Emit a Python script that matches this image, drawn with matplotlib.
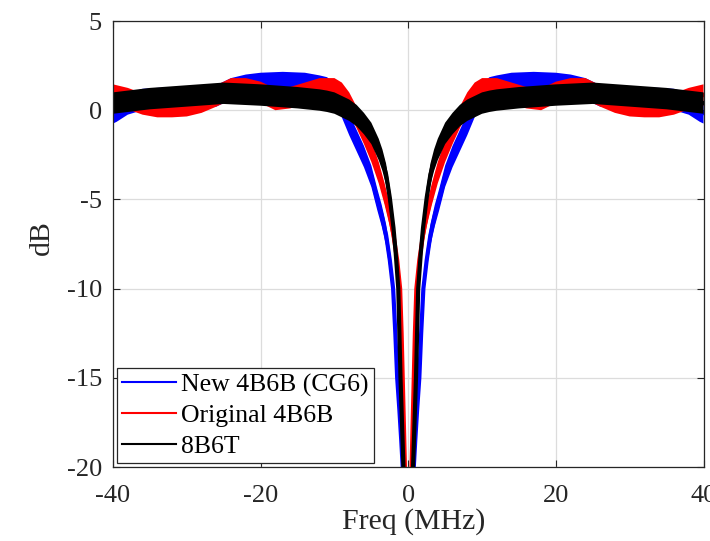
import numpy as np
import matplotlib
matplotlib.use("Agg")
import matplotlib.pyplot as plt

plt.rcParams['font.family'] = ['Liberation Serif', 'DejaVu Serif']
plt.rcParams['axes.unicode_minus'] = False

# ---- data (band centre in dB) ----
freq_blue = [-40, -39.5, -38, -36, -34, -30, -28, -26, -24, -22, -20, -17, -14, -12, -11, -10,
             -9, -8, -7, -6, -5, -4.2, -3.6, -3.0, -2.5, -2.05, -1.75, -1.5, -1.2, -0.95, -0.75, 0,
             0.75, 0.95, 1.2, 1.5, 1.75, 2.05, 2.5, 3.0, 3.6, 4.2, 5, 6, 7, 8, 9, 10, 11, 12, 14, 17,
             20, 22, 24, 26, 28, 30, 34, 36, 38, 39.5, 40]
db_blue = [-0.15, -0.05, 0.35, 0.6, 0.65, 0.7, 0.75, 0.8, 1.2, 1.4, 1.5, 1.55, 1.5, 1.35, 1.25, 0.9,
           0.2, -0.8, -1.7, -2.6, -3.7, -5.0, -5.9, -7.0, -8.4, -10, -12.5, -15, -16.8, -18.5, -20, -45,
           -20, -18.5, -16.8, -15, -12.5, -10, -8.4, -7.0, -5.9, -5.0, -3.7, -2.6, -1.7, -0.8, 0.2, 0.9,
           1.25, 1.35, 1.5, 1.55,
           1.5, 1.4, 1.2, 0.8, 0.75, 0.7, 0.65, 0.6, 0.35, -0.05, -0.15]

freq_red = [-40, -38, -36, -34, -32, -30, -28, -26, -24, -22, -20, -18, -16, -14, -12, -10,
            -9, -8, -7, -6, -5, -4, -3.2, -2.5, -2.0, -1.5, -1.1, -0.9, -0.75, -0.6, -0.45, 0,
            0.45, 0.6, 0.75, 0.9, 1.1, 1.5, 2.0, 2.5, 3.2, 4, 5, 6, 7, 8, 9, 10, 12, 14, 16, 18,
            20, 22, 24, 26, 28, 30, 32, 34, 36, 38, 40]
db_red = [0.85, 0.65, 0.35, 0.2, 0.2, 0.25, 0.45, 0.8, 1.2, 1.2, 1.0, 0.6, 0.7, 0.95, 1.2, 1.2,
          0.95, 0.4, -0.4, -1.3, -2.3, -3.5, -4.7, -5.9, -7.0, -8.4, -10, -12.5, -15, -17.5, -20, -45,
          -20, -17.5, -15, -12.5, -10, -8.4, -7.0, -5.9, -4.7, -3.5, -2.3, -1.3, -0.4, 0.4, 0.95, 1.2,
          1.2, 0.95, 0.7, 0.6,
          1.0, 1.2, 1.2, 0.8, 0.45, 0.25, 0.2, 0.2, 0.35, 0.65, 0.85]

freq_black = [-40, -35, -30, -25, -20, -15, -12, -11, -10, -9, -8, -7, -6, -5, -4, -3.5, -3.0,
              -2.5, -2.0, -1.7, -1.35, -1.2, -1.05, -0.85, -0.65, 0,
              0.65, 0.85, 1.05, 1.2, 1.35, 1.7, 2.0, 2.5, 3.0, 3.5, 4, 5, 6, 7, 8, 9, 10, 11, 12, 15,
              20, 25, 30, 35, 40]
db_black = [0.4, 0.65, 0.8, 0.95, 0.85, 0.7, 0.57, 0.5, 0.4, 0.2, 0.0, -0.3, -0.75, -1.3, -2.2, -2.8, -3.6,
            -4.9, -6.6, -8.0, -10, -12.5, -15, -17.5, -20, -45,
            -20, -17.5, -15, -12.5, -10, -8.0, -6.6, -4.9, -3.6, -2.8, -2.2, -1.3, -0.75, -0.3, 0.0, 0.2,
            0.4, 0.5, 0.57, 0.7,
            0.85, 0.95, 0.8, 0.65, 0.4]

spread_blue = 0.6
spread_red = 0.6
spread_black = 0.6

labels = ['New 4B6B (CG6)', 'Original 4B6B', '8B6T']
colors = ['#0000ff', '#ff0000', '#000000']

fig = plt.figure(figsize=(7.10, 5.41), dpi=100)
ax = fig.add_axes([113 / 710, (541 - 467) / 541, 590.5 / 710, 446 / 541])

series = [(freq_blue, db_blue, spread_blue), (freq_red, db_red, spread_red),
          (freq_black, db_black, spread_black)]
for (f, d, s), c, lab in zip(series, colors, labels):
    f = np.asarray(f, float)
    d = np.asarray(d, float)
    ax.fill_between(f, d - s, d + s, color=c, lw=0, zorder=2)
    ax.plot(f, d, color=c, lw=3.0, zorder=2)
    ax.plot([], [], color=c, lw=1.5, label=lab)

ax.set_xlim(-40, 40)
ax.set_ylim(-20, 5)
ax.set_xticks([-40, -20, 0, 20, 40])
ax.set_yticks([-20, -15, -10, -5, 0, 5])
ax.grid(True, color='#dcdcdc', lw=0.9)
ax.set_axisbelow(True)
ax.tick_params(direction='in', length=5, width=0.8, top=True, right=True,
               labelsize=19, colors='#262626')
ax.tick_params(axis='x', pad=13)
ax.tick_params(axis='y', pad=8)
for sp in ax.spines.values():
    sp.set_color('#262626')
    sp.set_linewidth(0.9)

ax.set_xlabel('Freq (MHz)', fontsize=21.5, color='#262626')
ax.set_ylabel('dB', fontsize=21.5, color='#262626')
ax.xaxis.set_label_coords(0.51, -0.093)
ax.yaxis.set_label_coords(-0.098, 0.515)

leg = ax.legend(loc='lower left', bbox_to_anchor=(0, 0), borderaxespad=0.15,
                fontsize=18.5, frameon=True, fancybox=False, framealpha=1,
                edgecolor='#262626', handlelength=2.1, handletextpad=0.2,
                labelspacing=0.3, borderpad=0.2)
leg.get_frame().set_linewidth(0.9)

fig.savefig('out.png', dpi=100)
